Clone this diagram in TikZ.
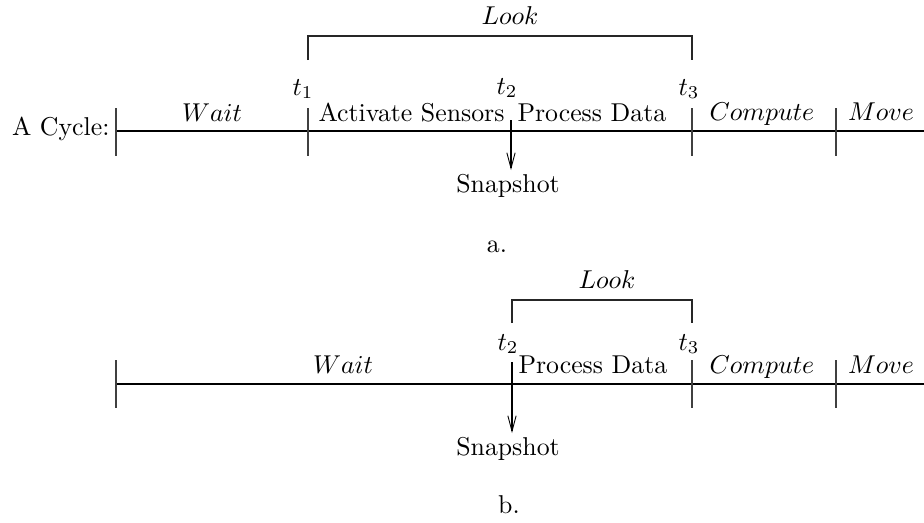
\documentclass[tikz,border=0pt]{standalone}
\usetikzlibrary{arrows.meta}
\begin{document}
\begin{tikzpicture}[x=0.3876pt,y=-0.3876pt,
  lbl/.style={inner sep=0pt,anchor=base},
  tl/.style={line width=0.4pt,black},
  tick/.style={line width=0.5pt,black!75},
  snap/.style={line width=0.45pt,-{Straight Barb[length=6pt,width=3.2pt,line width=0.35pt]}},
  brk/.style={line width=0.45pt,black!85}]
\useasboundingbox (0,0) rectangle (924,523);
% ---------- a ----------
\coordinate (a0) at (116,131);
\coordinate (aE) at (924,131);
\coordinate (a0t) at (116,108); \coordinate (a0b) at (116,156);
\coordinate (a1t) at (308,108); \coordinate (a1b) at (308,156);
\coordinate (a3t) at (692,108); \coordinate (a3b) at (692,156);
\coordinate (a4t) at (836,108); \coordinate (a4b) at (836,156);
\coordinate (a2t) at (511,120); \coordinate (a2b) at (511,170);
\coordinate (aL1) at (308,60); \coordinate (aL1u) at (308,36);
\coordinate (aL3) at (692,60); \coordinate (aL3u) at (692,36);
\draw[tl] (a0) -- (aE);
\draw[tick] (a0t) -- (a0b);
\draw[tick] (a1t) -- (a1b);
\draw[tick] (a3t) -- (a3b);
\draw[tick] (a4t) -- (a4b);
\draw[snap] (a2t) -- (a2b);
\draw[brk] (aL1) -- (aL1u) -- (aL3u) -- (aL3);
\node[inner sep=0pt,anchor=base east] (acyc) at (110,135) {A Cycle:};
\node[lbl] (await) at (212,121) {$Wait$};
\node[lbl] (at1) at (303,95) {$t_1$};
\node[lbl] (at2) at (507,94) {$t_2$};
\node[lbl] (at3) at (689,95) {$t_3$};
\node[inner sep=0pt,anchor=base west] (aact) at (318,121) {Activate Sensors};
\node[inner sep=0pt,anchor=base west] (aproc) at (517,121) {Process Data};
\node[lbl] (acomp) at (762,120) {$Compute$};
\node[lbl] (amove) at (881,120) {$Move$};
\node[lbl] (alook) at (510,24) {$Look$};
\node[lbl] (asnap) at (508,192) {Snapshot};
\node[lbl] (acap) at (497,252) {a.};
% ---------- b ----------
\coordinate (b0) at (116,384);
\coordinate (bE) at (924,384);
\coordinate (b0t) at (116,360); \coordinate (b0b) at (116,408);
\coordinate (b3t) at (692,360); \coordinate (b3b) at (692,408);
\coordinate (b4t) at (836,360); \coordinate (b4b) at (836,408);
\coordinate (b2t) at (512,362); \coordinate (b2b) at (512,433);
\coordinate (bL2) at (512,323); \coordinate (bL2u) at (512,300);
\coordinate (bL3) at (692,323); \coordinate (bL3u) at (692,300);
\draw[tl] (b0) -- (bE);
\draw[tick] (b0t) -- (b0b);
\draw[tick] (b3t) -- (b3b);
\draw[tick] (b4t) -- (b4b);
\draw[snap] (b2t) -- (b2b);
\draw[brk] (bL2) -- (bL2u) -- (bL3u) -- (bL3);
\node[lbl] (bwait) at (343,373) {$Wait$};
\node[lbl] (bt2) at (508,350) {$t_2$};
\node[lbl] (bt3) at (689,350) {$t_3$};
\node[inner sep=0pt,anchor=base west] (bproc) at (518,373) {Process Data};
\node[lbl] (bcomp) at (762,373) {$Compute$};
\node[lbl] (bmove) at (881,373) {$Move$};
\node[lbl] (blook) at (607,288) {$Look$};
\node[lbl] (bsnap) at (508,455) {Snapshot};
\node[lbl] (bcap) at (509,513) {b.};
\end{tikzpicture}
\end{document}
